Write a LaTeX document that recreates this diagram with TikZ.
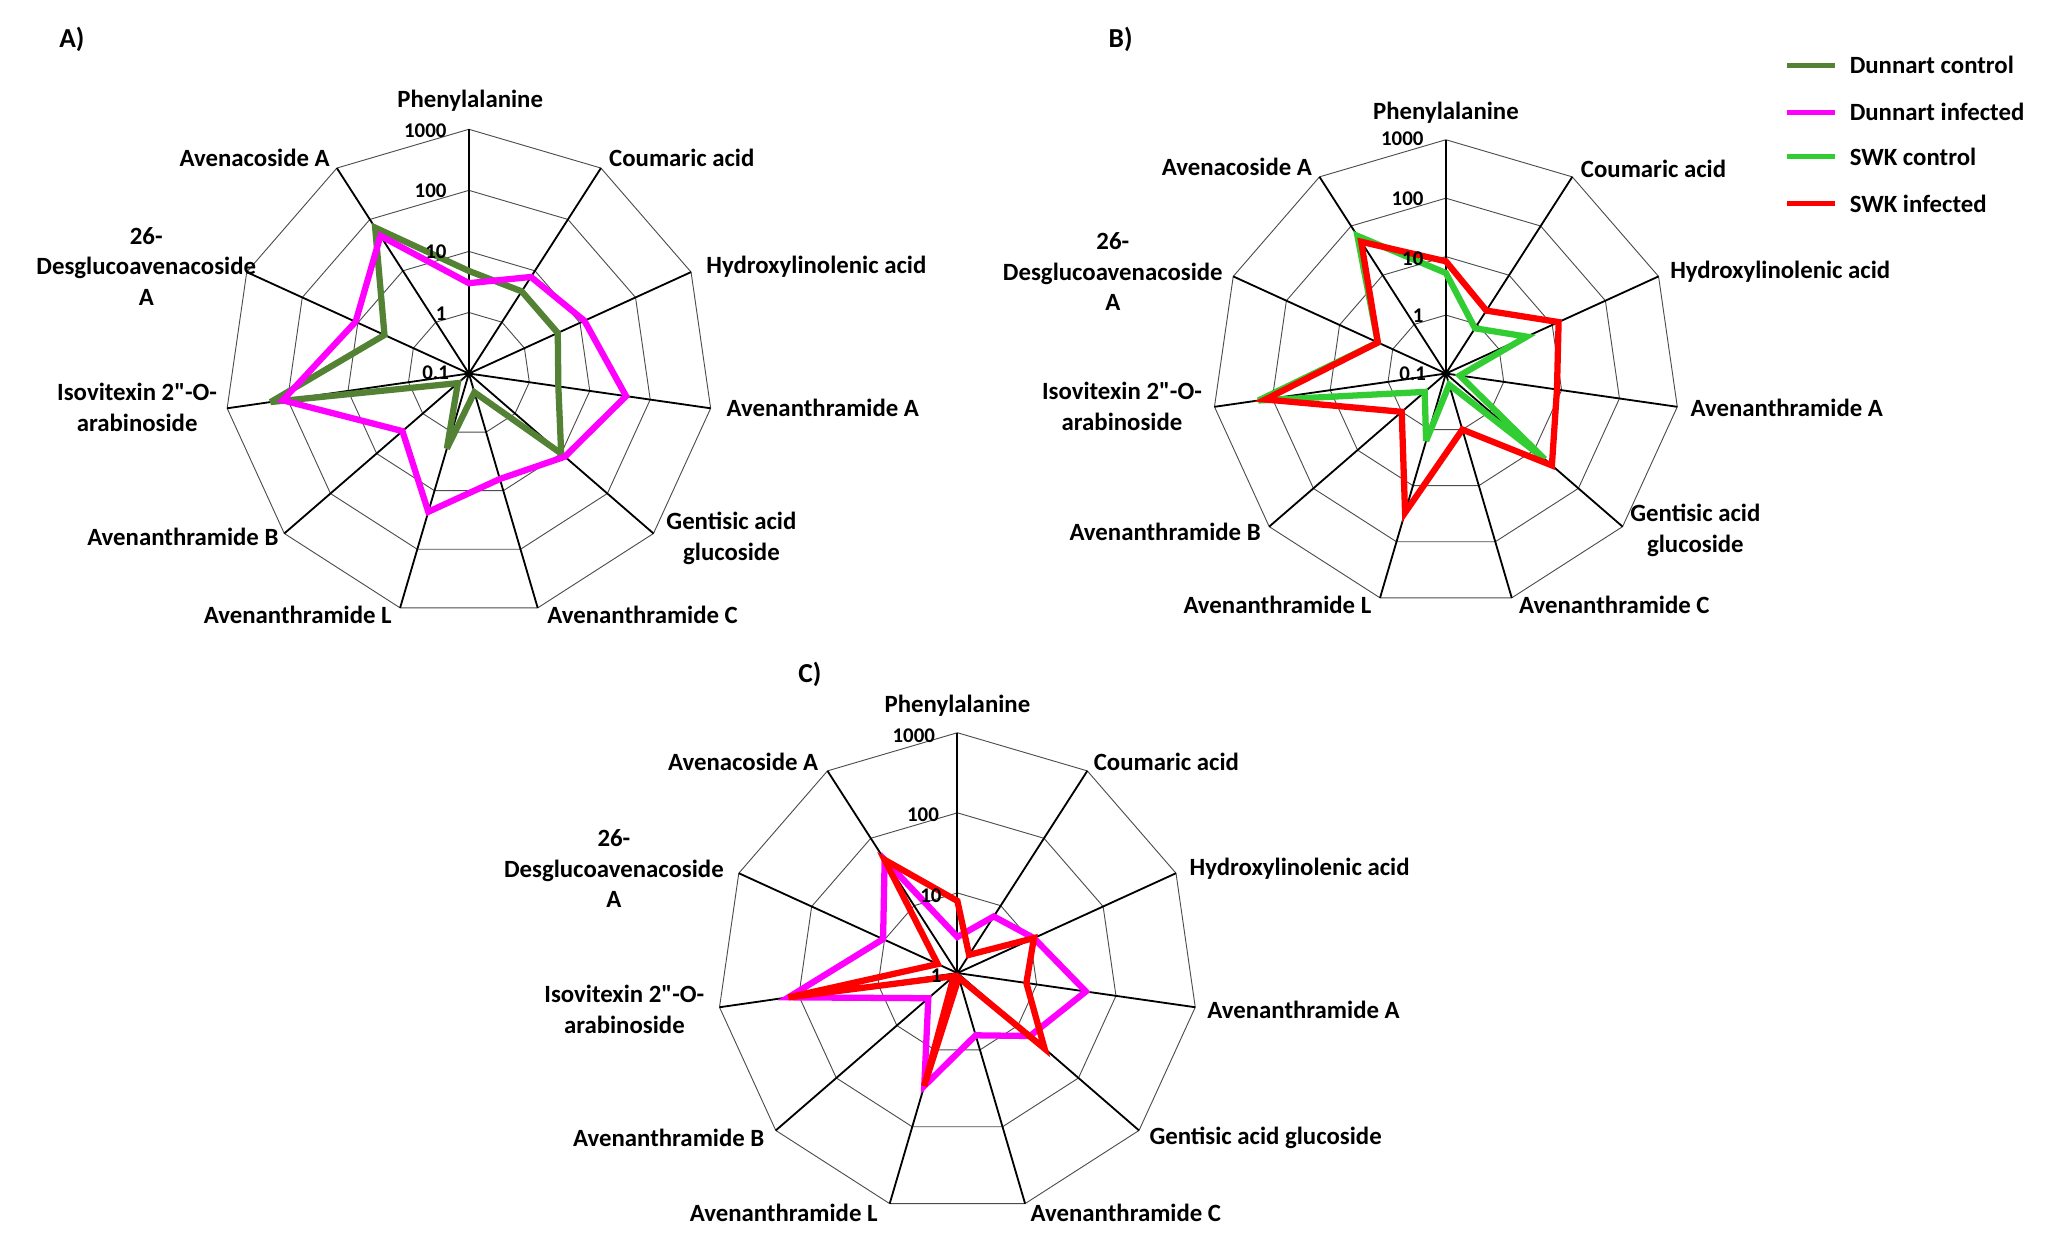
\documentclass[tikz,border=0pt]{standalone}
\usepackage{fontspec}
\setmainfont{Carlito}
\newfontfamily\plainq{Carlito}[Ligatures=ResetAll]
\usetikzlibrary{calc}
\definecolor{dctrl}{RGB}{84,130,53}
\definecolor{dinf}{RGB}{255,0,255}
\definecolor{sctrl}{RGB}{50,205,50}
\definecolor{sinf}{RGB}{255,0,0}
\newcommand\radargrid[3]{%
  \foreach \k in {1,...,#3}{
    \pgfmathsetmacro\rr{\k*#2/#3}
    \draw[ring] ($(#1)+(90:\rr)$) \foreach \i in {1,...,10}{ -- ($(#1)+({90-\i*360/11}:\rr)$)} -- cycle;
  }
  \foreach \i in {0,...,10}{ \draw[spoke] (#1) -- ($(#1)+({90-\i*360/11}:#2)$); }
}
\newcommand\series[5]{%
  \draw[#5] ($(#1)+(90:{#3*#2})$) \foreach \v [count=\i] in {#4}{ -- ($(#1)+({90-\i*360/11}:{\v*#2})$)} -- cycle;
}
\newcommand\qq{{\plainq\bfseries"}}
\begin{document}
\begin{tikzpicture}[x=1pt,y=1pt,
  ring/.style={draw=black!70,line width=0.7pt},
  spoke/.style={draw=black,line width=1.4pt},
  ser/.style={line width=4.8pt,line join=miter,miter limit=4},
  lab/.style={font=\fontsize{19}{23.5}\selectfont\bfseries,align=center,inner sep=1pt},
  tick/.style={font=\fontsize{16}{18}\selectfont\bfseries,inner sep=1pt},
  pan/.style={font=\fontsize{21}{23}\selectfont\bfseries}]
\useasboundingbox (0,0) rectangle (1568,952);
\fill[white] (0,0) rectangle (1568,952);
% ---------------- Panel A
\coordinate (A) at (359,{952-286});
\radargrid{A}{187}{4}
\series{A}{187}{0.42}{0.40,0.40,0.37,0.50,0.08,0.32,0.06,0.82,0.38,0.71}{ser,dctrl}
\series{A}{187}{0.37}{0.47,0.52,0.65,0.52,0.45,0.59,0.36,0.77,0.51,0.67}{ser,dinf}
\node[pan] (pa) at (55,{952-30}) {A)};
\node[lab] (a0) at (360,{952-77}) {Phenylalanine};
\node[lab] (a1) at (522,{952-121}) {Coumaric acid};
\node[lab] (a2) at (625,{952-204}) {Hydroxylinolenic acid};
\node[lab] (a3) at (630,{952-312}) {Avenanthramide A};
\node[lab] (a4) at (560,{952-412}) {Gentisic acid\\glucoside};
\node[lab] (a5) at (492,{952-471}) {Avenanthramide C};
\node[lab] (a6) at (228,{952-471}) {Avenanthramide L};
\node[lab] (a7) at (140,{952-411}) {Avenanthramide B};
\node[lab] (a8) at (105,{952-312}) {Isovitexin 2\qq-O-\\arabinoside};
\node[lab] (a9) at (112,{952-204}) {26-\\Desglucoavenacoside\\A};
\node[lab] (a10) at (195,{952-121}) {Avenacoside A};
\node[tick,anchor=east] (at4) at (343,{952-100}) {1000};
\node[tick,anchor=east] (at3) at (343,{952-146}) {100};
\node[tick,anchor=east] (at2) at (343,{952-193}) {10};
\node[tick,anchor=east] (at1) at (343,{952-240}) {1};
\node[tick,anchor=east] (at0) at (345,{952-285}) {0.1};
% ---------------- Panel B
\coordinate (B) at (1107,{952-286});
\radargrid{B}{179}{4}
\series{B}{179}{0.43}{0.23,0.38,0.06,0.56,0.05,0.30,0.12,0.81,0.32,0.70}{ser,sctrl}
\series{B}{179}{0.48}{0.32,0.53,0.48,0.60,0.25,0.62,0.25,0.78,0.32,0.67}{ser,sinf}
\node[pan] (pb) at (858,{952-30}) {B)};
\node[lab] (b0) at (1107,{952-86}) {Phenylalanine};
\node[lab] (b1) at (1266,{952-129}) {Coumaric acid};
\node[lab] (b2) at (1363,{952-208}) {Hydroxylinolenic acid};
\node[lab] (b3) at (1368,{952-312}) {Avenanthramide A};
\node[lab] (b4) at (1298,{952-406}) {Gentisic acid\\glucoside};
\node[lab] (b5) at (1236,{952-463}) {Avenanthramide C};
\node[lab] (b6) at (978,{952-463}) {Avenanthramide L};
\node[lab] (b7) at (892,{952-407}) {Avenanthramide B};
\node[lab] (b8) at (859,{952-311}) {Isovitexin 2\qq-O-\\arabinoside};
\node[lab] (b9) at (852,{952-208}) {26-\\Desglucoavenacoside\\A};
\node[lab] (b10) at (947,{952-128}) {Avenacoside A};
\node[tick,anchor=east] (bt4) at (1091,{952-106}) {1000};
\node[tick,anchor=east] (bt3) at (1091,{952-152}) {100};
\node[tick,anchor=east] (bt2) at (1091,{952-198}) {10};
\node[tick,anchor=east] (bt1) at (1091,{952-242}) {1};
\node[tick,anchor=east] (bt0) at (1093,{952-286}) {0.1};
% legend
\foreach \c/\t/\y [count=\n] in {dctrl/Dunnart control/50, dinf/Dunnart infected/86, sctrl/SWK control/120, sinf/SWK infected/156}{
  \coordinate (l\n a) at (1368,{952-\y});
  \coordinate (l\n b) at (1405,{952-\y});
  \draw[line width=3.8pt,\c] (l\n a) -- (l\n b);
  \node[lab,anchor=west] (lt\n) at (1415,{952-\y}) {\t};
}
% ---------------- Panel C
\coordinate (C) at (733,{952-745});
\radargrid{C}{184}{3}
\series{C}{184}{0.15}{0.28,0.35,0.54,0.40,0.27,0.49,0.16,0.71,0.34,0.56}{ser,dinf}
\series{C}{184}{0.30}{0.09,0.35,0.29,0.48,0.02,0.49,0.02,0.71,0.09,0.56}{ser,sinf}
\node[pan] (pc) at (620,{952-516}) {C)};
\node[lab] (c0) at (733,{952-540}) {Phenylalanine};
\node[lab] (c1) at (893,{952-583}) {Coumaric acid};
\node[lab] (c2) at (995,{952-665}) {Hydroxylinolenic acid};
\node[lab] (c3) at (998,{952-773}) {Avenanthramide A};
\node[lab] (c4) at (969,{952-871}) {Gentisic acid glucoside};
\node[lab] (c5) at (862,{952-929}) {Avenanthramide C};
\node[lab] (c6) at (600,{952-929}) {Avenanthramide L};
\node[lab] (c7) at (512,{952-871}) {Avenanthramide B};
\node[lab] (c8) at (478,{952-773}) {Isovitexin 2\qq-O-\\arabinoside};
\node[lab] (c9) at (470,{952-665}) {26-\\Desglucoavenacoside\\A};
\node[lab] (c10) at (569,{952-583}) {Avenacoside A};
\node[tick,anchor=east] (ct3) at (717,{952-563}) {1000};
\node[tick,anchor=east] (ct2) at (720,{952-624}) {100};
\node[tick,anchor=east] (ct1) at (722,{952-686}) {10};
\node[tick,anchor=east] (ct0) at (722,{952-747}) {1};
\end{tikzpicture}
\end{document}
